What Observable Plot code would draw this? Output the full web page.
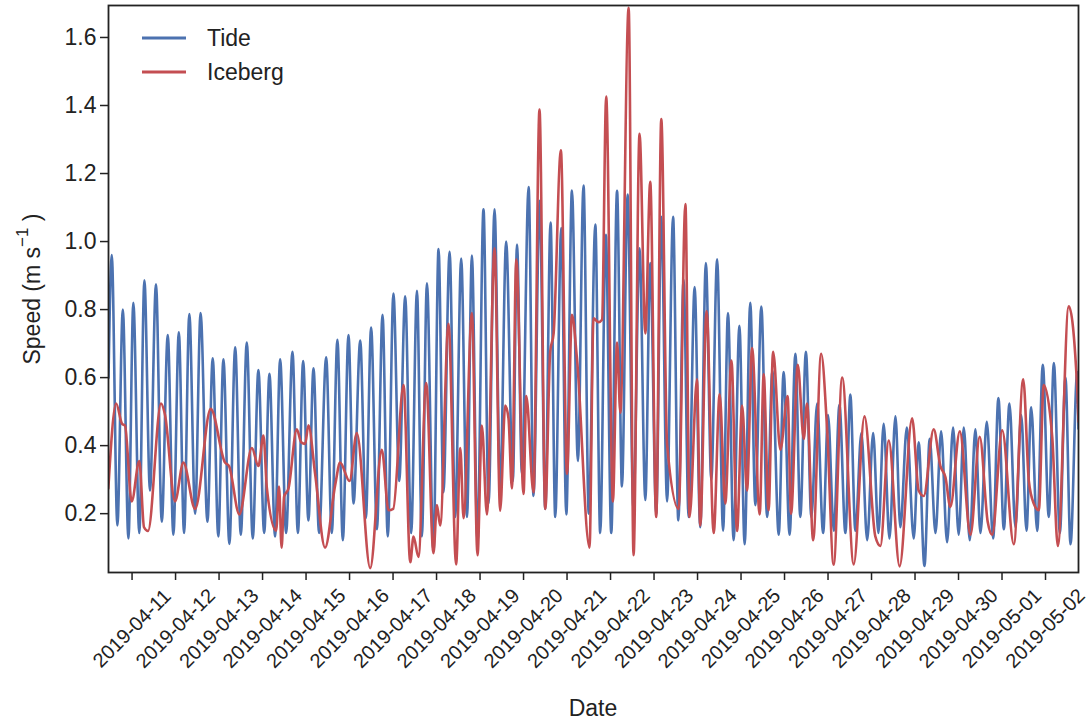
<!DOCTYPE html>
<html><head><meta charset="utf-8">
<script src="https://cdn.jsdelivr.net/npm/d3@7"></script>
<script src="https://cdn.jsdelivr.net/npm/@observablehq/plot@0.6"></script>
<style>
body{margin:0;background:#fff;}
#chart{width:1089px;height:723px;}
svg{overflow:visible;}
</style></head><body><div id="chart"></div>
<script>
// Hours since 2019-04-10 00:00 and speeds (m/s)
const tideHours = [11.0,12.8,15.9,18.9,22.0,24.7,28.0,30.8,33.9,37.2,40.4,43.7,46.8,49.8,52.7,55.6,58.8,61.8,65.6,68.5,71.6,74.4,77.7,80.9,84.0,87.3,90.6,93.7,96.9,99.8,102.9,105.7,109.0,112.5,115.5,118.4,121.3,124.1,127.2,131.1,134.2,137.3,140.3,143.4,146.2,149.9,153.0,155.9,159.1,162.2,165.1,168.2,171.4,174.7,178.0,181.2,183.9,186.7,190.3,193.1,195.8,199.2,202.3,205.6,208.8,211.5,214.6,217.9,220.7,224.0,227.1,230.4,234.1,236.4,239.1,242.8,245.5,248.9,252.0,254.9,257.5,260.8,263.6,266.7,270.0,273.1,276.0,279.6,282.3,285.4,288.4,291.6,294.3,297.4,300.6,304.0,307.2,309.9,313.2,316.0,319.2,322.5,325.4,328.3,331.1,334.4,337.5,340.6,343.6,346.8,350.1,352.8,355.9,359.1,362.0,365.1,367.9,371.2,374.4,377.3,380.8,383.5,386.8,390.0,392.7,395.8,398.8,402.0,405.3,408.0,411.2,414.3,417.6,420.3,423.1,426.4,429.6,432.9,435.8,438.7,441.9,445.2,447.9,451.5,455.3,458.0,461.2,464.1,467.3,470.4,473.7,477.0,480.1,482.9,486.2,489.3,492.1,495.6,499.1,502.0,505.0,508.1,511.4,514.6,517.5,520.1,523.4,526.5,529.8,532.6,535.9,539.0,541.8,545.5,546.2];
const tideSpeed = [0.60,0.96,0.165,0.80,0.127,0.82,0.143,0.886,0.268,0.874,0.176,0.725,0.138,0.733,0.143,0.787,0.20,0.79,0.176,0.657,0.133,0.654,0.111,0.689,0.138,0.703,0.127,0.622,0.143,0.611,0.133,0.654,0.143,0.676,0.143,0.649,0.18,0.627,0.143,0.66,0.143,0.711,0.122,0.725,0.23,0.709,0.187,0.747,0.154,0.785,0.133,0.847,0.296,0.839,0.143,0.855,0.133,0.877,0.089,0.978,0.263,0.97,0.19,0.95,0.19,0.959,0.12,1.095,0.23,1.095,0.274,1.0,0.296,0.991,0.317,1.16,0.252,1.12,0.214,1.056,0.19,1.04,0.198,1.15,0.355,1.165,0.2,1.05,0.143,1.02,0.143,1.149,0.28,1.138,0.22,0.98,0.24,0.937,0.2,1.073,0.236,1.073,0.18,0.888,0.19,0.866,0.16,0.937,0.3,0.948,0.15,0.79,0.122,0.752,0.11,0.82,0.225,0.809,0.19,0.62,0.138,0.616,0.138,0.67,0.19,0.676,0.19,0.524,0.143,0.49,0.15,0.52,0.143,0.55,0.15,0.437,0.122,0.437,0.143,0.464,0.127,0.486,0.16,0.453,0.127,0.41,0.046,0.42,0.143,0.442,0.116,0.453,0.138,0.453,0.122,0.448,0.143,0.47,0.127,0.54,0.154,0.524,0.16,0.49,0.15,0.513,0.149,0.638,0.19,0.643,0.143,0.60,0.11,0.616,0.45];
const icebergHours = [10.9,15.2,18.5,20.1,23.8,28.0,30.6,32.8,40.0,42.2,47.7,52.3,58.8,67.4,75.3,77.5,83.2,90.1,93.7,96.5,98.4,103.5,105.1,106.5,107.9,110.3,114.9,117.3,119.5,121.3,125.0,130.5,136.1,138.8,144.0,148.0,155.4,161.8,165.5,168.1,173.8,177.5,179.3,182.0,186.3,190.3,192.2,194.0,198.6,202.8,205.1,206.9,211.5,214.6,217.0,219.8,224.0,227.1,229.9,231.7,233.6,236.0,240.0,241.5,245.5,248.8,252.0,254.7,256.6,260.6,264.0,266.7,269.5,276.4,278.6,281.4,283.3,285.6,289.3,291.6,293.4,298.0,300.7,304.0,307.2,309.9,313.2,316.0,319.2,325.6,329.3,331.6,335.7,337.5,341.0,344.9,348.2,351.3,354.7,357.8,360.6,363.3,366.1,370.3,372.5,375.2,377.7,381.7,385.7,387.6,391.3,394.6,396.4,399.8,404.2,407.5,411.1,415.8,422.2,428.1,434.1,436.9,441.5,447.5,454.4,458.0,460.8,466.3,470.0,472.8,475.5,480.7,486.6,491.7,496.1,498.6,504.1,510.5,515.7,518.8,521.5,524.3,527.0,531.7,534.8,540.8,545.5,546.2];
const icebergSpeed = [0.274,0.524,0.464,0.459,0.236,0.355,0.16,0.149,0.524,0.49,0.236,0.35,0.214,0.508,0.35,0.34,0.198,0.393,0.34,0.43,0.274,0.15,0.28,0.10,0.25,0.274,0.448,0.41,0.405,0.46,0.317,0.10,0.285,0.35,0.296,0.437,0.04,0.388,0.21,0.214,0.578,0.057,0.133,0.073,0.584,0.084,0.225,0.165,0.758,0.051,0.393,0.187,0.79,0.078,0.459,0.198,0.98,0.209,0.518,0.48,0.274,0.948,0.258,0.546,0.263,1.388,0.214,0.676,0.73,1.268,0.317,0.785,0.654,0.10,0.774,0.763,0.77,1.426,0.236,0.703,0.497,1.687,0.078,1.317,0.73,1.176,0.19,1.36,0.404,0.214,1.11,0.19,0.595,0.165,0.796,0.143,0.551,0.23,0.65,0.149,0.518,0.268,0.687,0.198,0.61,0.21,0.676,0.388,0.546,0.2,0.638,0.42,0.524,0.122,0.67,0.448,0.05,0.60,0.051,0.486,0.133,0.105,0.415,0.045,0.48,0.268,0.252,0.448,0.34,0.307,0.22,0.442,0.138,0.426,0.176,0.138,0.445,0.11,0.595,0.296,0.23,0.21,0.578,0.426,0.105,0.81,0.567,0.47];
const tickLabels = ["2019-04-11","2019-04-12","2019-04-13","2019-04-14","2019-04-15","2019-04-16","2019-04-17","2019-04-18","2019-04-19","2019-04-20","2019-04-21","2019-04-22","2019-04-23","2019-04-24","2019-04-25","2019-04-26","2019-04-27","2019-04-28","2019-04-29","2019-04-30","2019-05-01","2019-05-02"];
const yTicks = [0.2,0.4,0.6,0.8,1.0,1.2,1.4,1.6];
const seriesNames = ["Tide","Iceberg"];
const seriesColors = ["#4c72b0","#c44e52"];

const base = new Date(2019,3,10);
const toDate = h => new Date(base.getTime() + h*3600e3);
const tide = tideHours.map((h,i)=>({date:toDate(h), speed:tideSpeed[i]}));
const iceberg = icebergHours.map((h,i)=>({date:toDate(h), speed:icebergSpeed[i]}));
const parse = d3.timeParse("%Y-%m-%d");
const tickDates = tickLabels.map(parse);

const FONT = "'Liberation Sans', Arial, Helvetica, sans-serif";
const INK = "#222222";

const plot = Plot.plot({
  width: 1089, height: 723,
  marginLeft: 108, marginRight: 11, marginTop: 5, marginBottom: 151,
  style: {fontFamily: FONT, fontSize: "23px", color: INK, background: "#fff"},
  x: {type: "time", domain: [toDate(11.0), toDate(546.2)]},
  y: {domain: [0.027, 1.694]},
  marks: [
    Plot.line(tide, {x: "date", y: "speed", stroke: seriesColors[0], strokeWidth: 2.6, curve: "monotone-x", clip: true}),
    Plot.line(iceberg, {x: "date", y: "speed", stroke: seriesColors[1], strokeWidth: 2.6, curve: "monotone-x", clip: true}),
    Plot.frame({stroke: INK, strokeWidth: 1.8}),
    Plot.axisY({ticks: yTicks, tickSize: 8, tickPadding: 4, tickFormat: d => d.toFixed(1), label: null, fontSize: 23, strokeWidth: 1.5}),
    Plot.axisX({ticks: tickDates, tickSize: 8, tickFormat: () => "", label: null, strokeWidth: 1.5}),
    Plot.text(tickDates, {x: d => d, frameAnchor: "bottom", dy: 56, rotate: -45, text: (d, i) => tickLabels[i], textAnchor: "middle", lineAnchor: "middle", fontSize: 20, fill: INK})
  ]
});
document.getElementById("chart").appendChild(plot);

const svg = d3.select(plot);
// axis titles
svg.append("text").attr("x", 593).attr("y", 716).attr("text-anchor", "middle")
  .attr("font-family", FONT).attr("font-size", 23).attr("fill", INK).text("Date");
const yl = svg.append("text").attr("transform", "translate(40,289) rotate(-90)").attr("text-anchor", "middle")
  .attr("font-family", FONT).attr("font-size", 23).attr("fill", INK);
yl.append("tspan").text("Speed (m s");
yl.append("tspan").attr("dy", -12).attr("font-size", 17).text("\u22121");
yl.append("tspan").attr("dy", 12).text(" )");
// legend
const lg = svg.append("g").attr("font-family", FONT).attr("font-size", 23).attr("fill", INK).attr("text-anchor", "start");
seriesNames.forEach((name, i) => {
  const y = 38 + i * 34;
  lg.append("line").attr("x1", 142).attr("x2", 186).attr("y1", y).attr("y2", y)
    .attr("stroke", seriesColors[i]).attr("stroke-width", 3);
  lg.append("text").attr("x", 207).attr("y", y + 8).attr("text-anchor", "start").text(name);
});
</script></body></html>
